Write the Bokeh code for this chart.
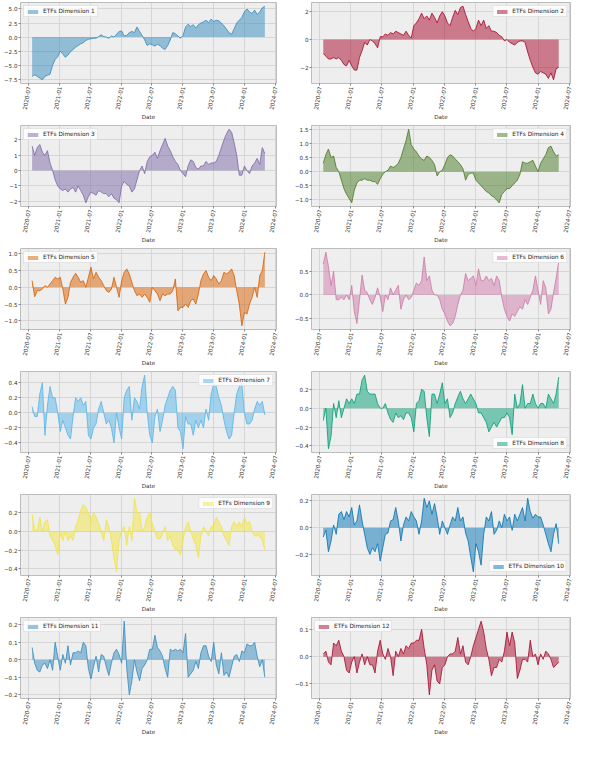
import math
import pandas as pd
from bokeh.plotting import figure
from bokeh.layouts import gridplot
from bokeh.models import FixedTicker, DatetimeTickFormatter, CustomJSTickFormatter
from bokeh.embed import file_html
from bokeh.resources import INLINE

# ---------------- data ----------------
dates = pd.date_range("2020-07-23", "2024-05-01", periods=92)

series_labels = [f"ETFs Dimension {i}" for i in range(1, 13)]
colors = ["#348ABD", "#A60628", "#7A68A6", "#467821", "#D55E00", "#CC79A7",
          "#56B4E9", "#009E73", "#F0E442", "#0072B2", "#348ABD", "#A60628"]
legend_locs = ["top_left", "top_right", "top_left", "top_right", "top_left", "top_right",
               "top_right", "bottom_right", "top_right", "bottom_right", "top_left", "top_left"]

x_tick_labels = ["2020-07", "2021-01", "2021-07", "2022-01", "2022-07",
                 "2023-01", "2023-07", "2024-01", "2024-07"]
y_ticks = [
    [-7.5, -5.0, -2.5, 0.0, 2.5, 5.0],
    [-2, 0, 2],
    [-2, -1, 0, 1, 2],
    [-1.0, -0.5, 0.0, 0.5, 1.0, 1.5],
    [-1.0, -0.5, 0.0, 0.5, 1.0],
    [-0.5, 0.0, 0.5, 1.0],
    [-0.4, -0.2, 0.0, 0.2, 0.4],
    [-0.4, -0.2, 0.0, 0.2],
    [-0.4, -0.2, 0.0, 0.2],
    [-0.2, 0.0, 0.2],
    [-0.2, -0.1, 0.0, 0.1, 0.2],
    [-0.1, 0.0, 0.1],
]
y_decimals = [1, 0, 0, 1, 1, 1, 1, 1, 1, 1, 1, 1]

dim1 = [-7.0,
        -6.7, -7.0, -7.3, -7.6, -7.0, -6.8, -6.6, -5.0, -4.0, -3.5,
        -2.5, -3.0, -3.6, -3.2, -2.6, -2.2, -1.8, -1.5, -1.2, -1.0, -0.6, -0.4,
        -0.3, -0.2, -0.2, 0.1, 0.4, 0.1, 0.0, -0.2, 0.2, 0.0, 0.5, 1.0,
        1.1, 0.2, 0.3, 0.8, 1.0, 0.8, 1.8, 1.0, 0.3, -0.5, -1.5, -1.2,
        -1.4, -1.6, -1.3, -1.5, -2.0, -2.2, -1.5, -0.5, 0.8, 0.6, 0.2, -0.2,
        0.3, 1.8, 2.3, 1.9, 2.2, 1.6, 2.2, 2.5, 2.7, 3.0, 2.6, 3.2,
        2.8, 3.0, 2.9, 2.5, 2.0, 1.4, 0.8, 0.5, 1.5, 2.5, 3.0, 3.5,
        4.5, 5.0, 4.5, 4.2, 4.8, 4.0, 4.5, 5.2,
        5.5]
dim2 = [-1.0,
        -1.2, -1.4, -1.4, -1.3, -1.4, -1.3, -1.5, -1.8, -1.9, -1.5,
        -1.9, -2.2, -2.2, -1.3, -0.8, -0.2, -0.4, 0.0, -0.1, -0.3, -0.6, 0.2,
        0.2, 0.4, 0.3, 0.5, 0.4, 0.6, 0.5, 0.4, 0.3, 0.6, 0.3, 0.1,
        1.0, 1.2, 1.5, 1.9, 1.5, 1.7, 1.4, 1.9, 1.6, 1.2, 1.7, 2.0,
        1.7, 1.2, 1.0, 1.6, 2.1, 1.8, 2.3, 2.4, 1.8, 1.3, 0.8, 0.6,
        0.8, 1.4, 1.0, 1.4, 0.8, 1.0, 0.6, 0.6, 0.5, 0.3, 0.2, -0.1,
        0.0, -0.2, -0.3, -0.4, -0.2, -0.1, -0.1, -0.2, -0.9, -1.5, -2.0, -2.4,
        -2.5, -2.3, -2.4, -2.5, -2.8, -2.4, -2.9, -2.1,
        -2.0]
dim3 = [1.6,
        1.0, 1.5, 1.7, 1.2, 1.0, 1.3, 0.5, 0.0, -0.6, -1.0,
        -1.2, -1.3, -1.2, -1.4, -1.2, -1.1, -1.4, -1.0, -1.3, -1.6, -2.1, -1.7,
        -1.4, -1.5, -1.6, -1.3, -1.4, -1.5, -1.5, -1.7, -1.5, -1.8, -1.9, -2.1,
        -1.0, -0.7, -0.9, -1.0, -1.4, -1.2, -0.6, 0.0, 0.3, -0.2, 0.6, 0.9,
        1.0, 1.2, 0.8, 1.3, 1.7, 2.1, 1.6, 1.3, 0.9, 0.6, 0.4, 0.0,
        -0.2, -0.4, 0.3, 0.7, 0.6, 0.2, 0.1, 0.3, 0.3, 0.6, 0.4, 0.5,
        0.5, 0.6, 1.0, 1.5, 2.0, 2.4, 2.7, 2.5, 1.8, 1.0, -0.3, -0.3,
        0.3, 0.0, -0.2, 0.3, 0.5, 0.8, 0.4, 1.5,
        1.1]
dim4 = [0.3, 0.6, 0.8, 0.5, 0.55, 0.15, 0.0, -0.3, -0.6, -0.8,
        -0.95, -1.1, -0.65, -0.4, -0.3, -0.3, -0.25, -0.3, -0.3, -0.35,
        -0.35, -0.45, -0.25, -0.1, 0.0, 0.05, 0.2, 0.15, 0.2, 0.3,
        0.5, 0.8, 1.1, 1.5, 0.95, 0.8, 0.7, 0.55, 0.45, 0.4,
        0.55, 0.5, 0.4, 0.25, -0.15, 0.0, 0.05, 0.25, 0.5, 0.6,
        0.55, 0.45, 0.35, 0.25, 0.1, -0.3, -0.1, -0.05, -0.05, -0.3,
        -0.4, -0.5, -0.6, -0.7, -0.75, -0.85, -0.9, -1.0, -1.1, -0.8,
        -0.7, -0.6, -0.6, -0.5, -0.4, -0.3, -0.1, 0.35, 0.3, 0.3,
        0.35, 0.4, 0.2, 0.0, 0.3, 0.45, 0.6, 0.85, 0.9, 0.7,
        0.55, 0.6]
dim5 = [0.2, -0.28, -0.1, -0.1, -0.05, 0.05, 0.0, 0.1, 0.2, 0.3,
        0.25, 0.3, -0.05, -0.5, -0.3, 0.15, 0.3, 0.42, 0.3, 0.15,
        0.2, 0.0, 0.3, 0.6, 0.25, 0.45, 0.3, 0.2, 0.05, -0.1,
        -0.15, -0.05, 0.3, 0.0, -0.3, 0.2, 0.45, 0.55, 0.4, 0.15,
        -0.1, -0.25, -0.2, -0.3, -0.2, -0.3, -0.45, 0.0, -0.1, -0.2,
        -0.4, -0.2, -0.25, -0.2, -0.2, -0.1, 0.25, -0.7, -0.6, -0.6,
        -0.5, -0.6, -0.4, -0.35, -0.5, -0.2, 0.2, 0.4, 0.5, 0.3,
        0.2, 0.35, 0.25, 0.1, 0.2, 0.45, 0.4, 0.45, 0.55, 0.35,
        -0.1, -0.5, -1.15, -0.75, -0.8, -0.5, -0.3, 0.0, -0.3, 0.35,
        0.5, 1.05]
dim6 = [0.65, 0.9, 0.6, 0.2, 0.5, -0.1, -0.1, -0.05, -0.1, 0.0,
        -0.1, 0.2, -0.35, -0.6, -0.1, 0.42, 0.1, 0.05, -0.1, -0.2,
        -0.05, 0.15, -0.05, -0.35, 0.0, -0.1, 0.15, 0.0, 0.1, 0.2,
        -0.3, -0.1, 0.0, -0.1, -0.05, 0.1, 0.25, 0.2, 0.3, 0.8,
        0.3, 0.4, 0.1, 0.0, 0.0, -0.1, -0.3, -0.4, -0.55, -0.65,
        -0.6, -0.45, -0.2, 0.0, 0.1, 0.45, 0.3, 0.35, 0.4, 0.2,
        0.55, 0.3, 0.3, 0.4, 0.3, 0.35, 0.2, 0.4, 0.3, -0.05,
        -0.3, -0.45, -0.55, -0.4, -0.45, -0.35, -0.25, -0.3, -0.1, -0.2,
        -0.05, 0.1, 0.4, 0.1, -0.2, 0.3, 0.15, -0.4, -0.3, 0.05,
        0.35, 0.7]
dim7 = [0.08, -0.05, -0.05, 0.25, 0.4, -0.3, 0.1, 0.35, 0.2, 0.2,
        0.0, -0.25, -0.1, -0.2, -0.3, -0.35, -0.05, 0.2, 0.15, 0.2,
        0.1, 0.15, -0.3, -0.35, -0.2, -0.15, 0.05, 0.15, 0.0, -0.15,
        -0.1, -0.2, -0.4, 0.0, -0.2, -0.35, 0.2, 0.3, 0.35, -0.1,
        0.2, 0.15, 0.05, 0.35, 0.5, 0.0, -0.3, -0.4, -0.05, 0.05,
        -0.25, -0.1, 0.1, 0.2, 0.3, 0.35, 0.3, -0.2, -0.25, -0.48,
        -0.05, -0.15, -0.15, -0.3, -0.1, -0.2, -0.1, -0.2, 0.05, -0.1,
        0.25, 0.38, 0.35, 0.2, 0.1, -0.1, -0.25, -0.35, -0.3, 0.0,
        0.25, 0.35, 0.38, 0.0, -0.15, -0.15, -0.1, 0.05, 0.15, 0.1,
        0.15, -0.03]
dim8 = [-0.13, 0.0, -0.43, -0.3, 0.05, -0.1, 0.08, -0.1, 0.0, 0.1,
        0.05, 0.1, 0.05, 0.15, 0.15, 0.3, 0.35, 0.18, 0.15, 0.15,
        0.15, 0.05, 0.0, 0.0, 0.05, -0.05, -0.12, -0.15, -0.05, -0.1,
        -0.08, -0.12, -0.05, -0.05, -0.1, -0.25, 0.05, 0.08, 0.2, 0.18,
        -0.1, -0.3, 0.15, 0.15, 0.05, 0.15, 0.27, 0.05, 0.1, -0.1,
        -0.05, 0.05, 0.12, 0.18, 0.1, 0.05, 0.1, 0.15, 0.1, 0.05,
        -0.05, -0.05, -0.1, -0.15, -0.25, -0.2, -0.15, -0.2, -0.15, -0.1,
        -0.1, -0.05, -0.1, -0.28, 0.15, 0.0, 0.05, 0.25, 0.0, 0.05,
        0.05, 0.15, 0.05, 0.0, 0.05, 0.05, 0.0, 0.15, 0.1, 0.05,
        0.15, 0.33]
dim9 = [0.18, 0.02, 0.0, 0.15, 0.0, 0.1, 0.12, -0.05, -0.1, -0.15,
        -0.25, -0.02, -0.1, 0.0, -0.1, -0.05, -0.1, 0.05, 0.12, 0.22,
        0.28, 0.25, 0.2, 0.1, 0.2, 0.15, 0.08, 0.0, -0.1, 0.12,
        0.05, -0.1, -0.28, -0.43, -0.1, 0.0, 0.05, -0.15, 0.05, -0.1,
        0.35, 0.2, 0.2, 0.0, 0.05, 0.15, 0.2, 0.08, 0.0, -0.08,
        -0.08, -0.03, 0.05, -0.1, -0.05, -0.15, -0.2, -0.2, -0.25, -0.1,
        0.05, 0.1, 0.0, -0.08, -0.15, -0.28, -0.05, 0.05, 0.0, -0.05,
        0.05, 0.05, 0.15, 0.1, 0.05, -0.05, -0.1, -0.15, 0.05, 0.1,
        0.05, 0.1, 0.05, 0.15, 0.08, 0.1, 0.0, -0.05, -0.05, -0.05,
        -0.1, -0.2]
dim10 = [-0.07, -0.02, -0.18, -0.1, 0.02, -0.05, 0.1, 0.12, 0.06, 0.12,
         0.08, 0.15, 0.02, 0.05, 0.17, 0.05, -0.05, -0.15, -0.2, -0.15,
         -0.18, -0.12, -0.25, -0.15, -0.05, -0.04, 0.05, 0.06, 0.15, 0.05,
         -0.1, 0.02, 0.08, 0.05, 0.12, 0.08, 0.05, -0.05, 0.05, 0.22,
         0.15, 0.2, 0.1, 0.18, 0.08, -0.05, 0.05, 0.0, -0.05, 0.02,
         0.08, 0.05, 0.15, 0.05, 0.08, -0.04, -0.1, -0.22, -0.33, -0.12,
         -0.18, -0.28, -0.05, 0.08, 0.05, 0.12, -0.05, -0.02, 0.05, 0.0,
         0.1, 0.05, 0.08, -0.02, 0.1, 0.05, 0.1, 0.15, 0.05, 0.22,
         0.12, 0.07, 0.1, 0.08, 0.08, 0.02, -0.05, -0.12, -0.18, -0.05,
         0.03, -0.12]
dim11 = [0.07, -0.02, -0.06, -0.07, -0.03, -0.02, -0.05, 0.0, -0.06, 0.1,
         0.02, -0.06, 0.03, -0.02, 0.08, -0.03, 0.04, 0.04, 0.05, 0.04,
         0.1, 0.08, -0.05, -0.11, -0.04, 0.02, -0.07, 0.03, 0.02, -0.04,
         -0.09, -0.02, 0.04, 0.06, 0.03, -0.02, 0.22, -0.05, -0.2, -0.12,
         0.0, -0.07, -0.12, -0.05, -0.03, 0.0, 0.06, 0.06, 0.14, 0.07,
         0.05, 0.02, -0.05, -0.1, 0.06, 0.05, 0.06, 0.05, 0.06, 0.04,
         0.15, -0.1, -0.08, -0.06, -0.01, -0.05, 0.04, 0.08, 0.08, 0.02,
         -0.01, 0.1, -0.03, -0.08, 0.04, -0.09, -0.07, -0.1, -0.04, 0.02,
         0.03, -0.01, 0.05, 0.04, 0.09, 0.08, 0.08, 0.1, 0.02, -0.04,
         0.0, -0.1]
dim12 = [0.01, 0.02, -0.02, -0.03, 0.05, 0.04, 0.06, 0.02, 0.0, -0.05,
         -0.06, -0.02, 0.0, -0.06, -0.02, 0.01, -0.03, 0.0, -0.03, -0.03,
         -0.06, 0.02, 0.06, 0.01, -0.01, 0.03, 0.0, -0.07, 0.02, 0.0,
         0.03, 0.01, 0.04, 0.03, 0.05, 0.05, 0.06, 0.06, 0.1, 0.03,
         -0.03, -0.14, -0.05, -0.03, -0.09, -0.1, -0.04, -0.03, 0.0, 0.01,
         0.01, 0.02, 0.07, 0.01, 0.04, -0.02, -0.03, 0.0, 0.04, 0.07,
         0.1, 0.13, 0.09, 0.03, -0.01, -0.07, -0.04, -0.04, -0.01, -0.02,
         0.02, 0.09, 0.04, 0.09, 0.05, -0.08, -0.05, -0.01, -0.01, -0.02,
         0.06, 0.0, 0.01, -0.03, 0.01, -0.01, 0.02, 0.01, -0.01, -0.04,
         -0.03, -0.02]

series = [dim1, dim2, dim3, dim4, dim5, dim6, dim7, dim8, dim9, dim10, dim11, dim12]

# ---------------- figures ----------------
FONT = "DejaVu Sans"
FS = "5.6px"
x_ticks_ms = [pd.Timestamp(t + "-01").value / 1e6 for t in x_tick_labels]


def make_fig(i):
    left = (i % 2 == 0)
    p = figure(width=291 if left else 282, height=123, x_axis_type="datetime",
               output_backend="svg", toolbar_location=None,
               min_border_left=18, min_border_right=15 if left else 3,
               min_border_top=2, min_border_bottom=0,
               background_fill_color="#eeeeee", border_fill_color="white")
    p.outline_line_color = "#bcbcbc"
    p.outline_line_width = 1

    vals = series[i]
    p.varea(x=dates, y1=0, y2=vals, fill_color=colors[i], fill_alpha=0.5,
            legend_label=series_labels[i])
    p.line(x=dates, y=vals, line_color=colors[i], line_width=0.8)

    p.grid.grid_line_color = "#cfcfcf"
    p.grid.grid_line_width = 0.8

    for ax in (p.xaxis[0], p.yaxis[0]):
        ax.axis_line_color = None
        ax.major_tick_line_color = "#555555"
        ax.major_tick_line_width = 0.7
        ax.major_tick_out = 2
        ax.major_tick_in = 0
        ax.minor_tick_line_color = None
        ax.major_label_text_font = FONT
        ax.major_label_text_font_size = FS
        ax.major_label_text_color = "#333333"
        ax.major_label_standoff = 1

    p.xaxis.ticker = FixedTicker(ticks=x_ticks_ms)
    p.xaxis.formatter = DatetimeTickFormatter(days="%Y-%m", months="%Y-%m", years="%Y-%m")
    p.xaxis.major_label_orientation = math.radians(80)
    p.xaxis.axis_label = "Date"
    p.xaxis.axis_label_text_font = FONT
    p.xaxis.axis_label_text_font_size = FS
    p.xaxis.axis_label_text_font_style = "normal"
    p.xaxis.axis_label_text_color = "#333333"
    p.xaxis.axis_label_standoff = 1

    p.yaxis.ticker = FixedTicker(ticks=y_ticks[i])
    p.yaxis.formatter = CustomJSTickFormatter(
        args=dict(d=y_decimals[i]),
        code="return tick.toFixed(d).replace('-', '\u2212');")

    lg = p.legend[0]
    lg.location = legend_locs[i]
    lg.label_text_font = FONT
    lg.label_text_font_size = "5.8px"
    lg.label_text_color = "#222222"
    lg.glyph_width = 13
    lg.glyph_height = 5
    lg.label_height = 6
    lg.label_standoff = 4
    lg.padding = 2
    lg.spacing = 0
    lg.margin = 3
    lg.background_fill_color = "white"
    lg.background_fill_alpha = 0.8
    lg.border_line_color = "#cccccc"
    lg.border_line_width = 0.8
    return p


figs = [make_fig(i) for i in range(12)]
grid = gridplot(figs, ncols=2, toolbar_location=None)

open("out.html", "w").write(file_html(grid, INLINE))
